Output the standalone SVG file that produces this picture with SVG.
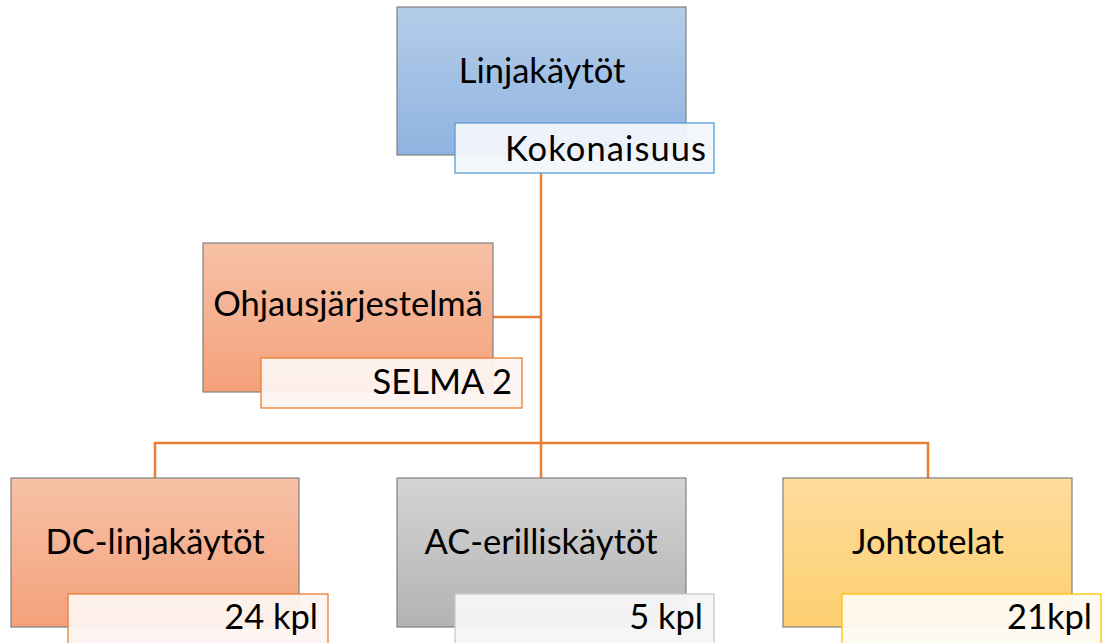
<svg xmlns="http://www.w3.org/2000/svg" width="1104" height="643" viewBox="0 0 1104 643">
<defs>
<linearGradient id="gBlue" x1="0" y1="0" x2="0" y2="1"><stop offset="0" stop-color="#b4cdea"/><stop offset="1" stop-color="#8fb3e0"/></linearGradient>
<linearGradient id="gOrange" x1="0" y1="0" x2="0" y2="1"><stop offset="0" stop-color="#f6c1a7"/><stop offset="1" stop-color="#f4a17a"/></linearGradient>
<linearGradient id="gGrey" x1="0" y1="0" x2="0" y2="1"><stop offset="0" stop-color="#d4d4d4"/><stop offset="1" stop-color="#b3b3b3"/></linearGradient>
<linearGradient id="gYellow" x1="0" y1="0" x2="0" y2="1"><stop offset="0" stop-color="#fedc9c"/><stop offset="1" stop-color="#fdcf70"/></linearGradient>
<style>
.box{stroke:#808080;stroke-width:1.2}
.lbl{stroke-width:1.3}
.t{font-family:Lato,"Open Sans","Liberation Sans",sans-serif;font-size:34.5px;fill:#000}
.m{text-anchor:middle}
.e{text-anchor:end}
.conn{fill:none;stroke:#ed7d31;stroke-width:2.5}
</style>
</defs>
<g id="connectors">
<path class="conn" d="M541 173 V478"/>
<path class="conn" d="M493 317 H541"/>
<path class="conn" d="M155 478 V443 H928 V478"/>
</g>
<g id="node-linjakaytot">
<rect class="box" x="397" y="7" width="289" height="148" fill="url(#gBlue)"/>
<text class="t m" x="542" y="83">Linjakäytöt</text>
<rect class="lbl" x="455" y="123" width="259" height="50" fill="#f2f6fb" fill-opacity="0.95" stroke="#5b9bd5"/>
<text class="t e" x="706" y="161" textLength="201">Kokonaisuus</text>
</g>
<g id="node-ohjaus">
<rect class="box" x="203" y="243" width="290" height="149" fill="url(#gOrange)"/>
<text class="t m" x="348" y="316">Ohjausjärjestelmä</text>
<rect class="lbl" x="261" y="358" width="261" height="50" fill="#fdf4f0" fill-opacity="0.95" stroke="#ed7d31"/>
<text class="t e" x="512" y="394">SELMA 2</text>
</g>
<g id="node-dc">
<rect class="box" x="11" y="478" width="288" height="149" fill="url(#gOrange)"/>
<text class="t m" x="155" y="554">DC-linjakäytöt</text>
<rect class="lbl" x="68" y="594" width="260" height="60" fill="#fdf4f0" fill-opacity="0.95" stroke="#ed7d31"/>
<text class="t e" x="318" y="629">24 kpl</text>
</g>
<g id="node-ac">
<rect class="box" x="397" y="478" width="289" height="149" fill="url(#gGrey)"/>
<text class="t m" x="541" y="554">AC-erilliskäytöt</text>
<rect class="lbl" x="455" y="594" width="259" height="60" fill="#f6f6f6" fill-opacity="0.95" stroke="#c9c9c9"/>
<text class="t e" x="703" y="629">5 kpl</text>
</g>
<g id="node-johto">
<rect class="box" x="783" y="478" width="289" height="149" fill="url(#gYellow)"/>
<text class="t m" x="928" y="554">Johtotelat</text>
<rect class="lbl" x="842" y="594" width="259" height="60" fill="#fdf9f2" fill-opacity="0.95" stroke="#ffc000"/>
<text class="t e" x="1092" y="629">21kpl</text>
</g>
</svg>
